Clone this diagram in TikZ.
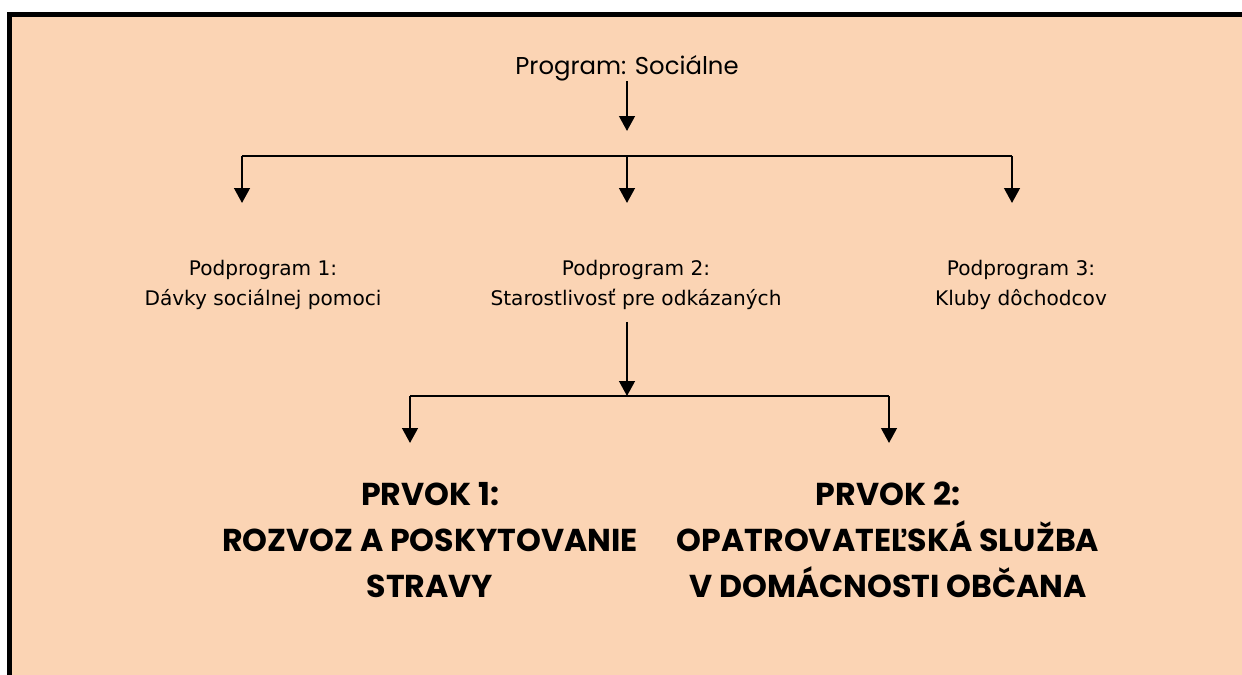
\documentclass[tikz,border=0pt]{standalone}
\usepackage{fontspec}
\setmainfont{DejaVu Sans}
\newfontfamily\gothic{Poppins}
\usepackage{xcolor}
\usetikzlibrary{arrows.meta, positioning, calc}
\definecolor{peach}{RGB}{251, 212, 180}
\definecolor{ink}{RGB}{0, 0, 0}

\begin{document}
\begin{tikzpicture}[
    x=0.025cm, y=-0.025cm,
    heading/.style={inner sep=0pt, font=\gothic\fontsize{17.3}{20}\selectfont},
    sub/.style={inner sep=0pt, align=center, font=\fontsize{14.3}{21}\selectfont},
    elem/.style={inner sep=0pt, align=center, font=\gothic\bfseries\fontsize{22.5}{32.6}\selectfont},
    arrow/.style={-{Triangle[width=11pt,length=10.5pt]}, line width=1.6pt, color=ink},
    bar/.style={line width=1.3pt, color=ink}
]
    % Frame
    \useasboundingbox (0,0) rectangle (1242,675);
    \fill[peach] (9.5,14.3) rectangle (1242,675);
    \draw[line width=3.2pt, color=ink] (9.5,675) -- (9.5,14.3) -- (1242,14.3);

    % Nodes
    \node[heading] (prog) at (627,68) {Program: Sociálne};
    \node[sub] (pod1) at (263,285) {Podprogram 1:\\Dávky sociálnej pomoci};
    \node[sub] (pod2) at (636,285) {Podprogram 2:\\Starostlivosť pre odkázaných};
    \node[sub] (pod3) at (1021,285) {Podprogram 3:\\Kluby dôchodcov};
    \node[elem] (prvok1) at (430,540) {PRVOK 1:\\ROZVOZ A POSKYTOVANIE\\STRAVY};
    \node[elem] (prvok2) at (888,540) {PRVOK 2:\\OPATROVATEĽSKÁ SLUŽBA\\V DOMÁCNOSTI OBČANA};

    % Branch points
    \coordinate (hub1) at (627,131);
    \coordinate (barL) at (242,156);
    \coordinate (barM) at (627,156);
    \coordinate (barR) at (1012,156);
    \coordinate (hub2) at (627,396);
    \coordinate (bar2L) at (410,396);
    \coordinate (bar2R) at (889,396);

    % Arrows
    \draw[arrow] (prog.south) -- (hub1);
    \draw[bar] (barL) -- (barR);
    \draw[arrow] (barL) -- ++(0,47);
    \draw[arrow] (barM) -- ++(0,47);
    \draw[arrow] (barR) -- ++(0,47);
    \draw[arrow] (pod2.south -| hub2) ++(0,12) -- (hub2);
    \draw[bar] (bar2L) -- (bar2R);
    \draw[arrow] (bar2L) -- ++(0,47);
    \draw[arrow] (bar2R) -- ++(0,47);
\end{tikzpicture}
\end{document}
